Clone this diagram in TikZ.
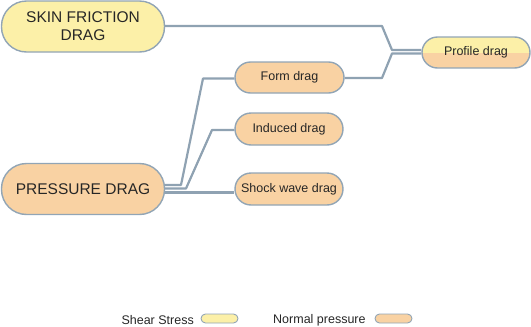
\documentclass[tikz,border=0pt]{standalone}
\usepackage{fontspec}
\setmainfont{Liberation Sans}
\definecolor{ylw}{HTML}{FCF0A8}
\definecolor{org}{HTML}{F9D2A3}
\definecolor{bord}{HTML}{92A5B5}
\definecolor{conn}{HTML}{8FA2B2}
\definecolor{txt}{HTML}{262626}
\begin{document}
\begin{tikzpicture}[x=1pt,y=-1pt,
  pill/.style={draw=bord, line width=1.4pt, rounded corners=#1, inner sep=0pt, text=txt, align=center},
  bigfont/.style={font=\fontsize{15.5}{18}\selectfont},
  smallfont/.style={font=\fontsize{12.5}{15}\selectfont},
  wire/.style={draw=conn, line width=2.2pt, line join=round},
  legpill/.style={draw=bord, line width=0.9pt, rounded corners=4.5pt, minimum width=37pt, minimum height=9pt, inner sep=0pt}]
\useasboundingbox (0,0) rectangle (531,327);
\node[pill=25pt, fill=ylw, bigfont, minimum width=163pt, minimum height=51pt] (skin) at (83,26.5) {SKIN FRICTION\\DRAG};
\node[pill=25pt, fill=org, bigfont, minimum width=163pt, minimum height=51pt] (press) at (83,189) {PRESSURE DRAG};
\node[pill=15.5pt, fill=org, smallfont, minimum width=109pt, minimum height=31pt] (form) at (289.5,77.5) {Form drag};
\node[pill=16pt, fill=org, smallfont, minimum width=108pt, minimum height=32pt] (induced) at (289,129) {Induced drag};
\node[pill=16pt, fill=org, smallfont, minimum width=108pt, minimum height=32pt] (shock) at (289,189) {Shock wave drag};
\node[pill=15.5pt, smallfont, minimum width=108pt, minimum height=31pt,
  path picture={
    \fill[org, sharp corners] (path picture bounding box.south west) rectangle (path picture bounding box.east);
    \fill[ylw, sharp corners] (path picture bounding box.north west) rectangle (path picture bounding box.east);
  }] (profile) at (476,52.5) {Profile drag};
% connectors
\coordinate (a1) at (382,26); \coordinate (a2) at (392,50);
\coordinate (b1) at (382,78); \coordinate (b2) at (392,53.5);
\draw[wire] (skin.east |- 0,26) -- (a1) -- (a2) -- (profile.west |- a2);
\draw[wire] (form.east |- 0,78) -- (b1) -- (b2) -- (profile.west |- b2);
\coordinate (c1) at (181,185); \coordinate (c2) at (203,78.5);
\coordinate (d1) at (186,188.5); \coordinate (d2) at (212,130);
\draw[wire] (press.east |- c1) -- (c1) -- (c2) -- (form.west |- c2);
\draw[wire] (press.east |- d1) -- (d1) -- (d2) -- (induced.west |- d2);
\draw[wire] (press.east |- 0,192.5) -- (shock.west |- 0,192.5);
% legend
\node[smallfont, text=txt, anchor=east, inner sep=0pt] (lshear) at (194,320) {Shear Stress};
\node[legpill, fill=ylw] (pshear) at (219.5,318.5) {};
\node[smallfont, text=txt, anchor=west, inner sep=0pt] (lnorm) at (273,320) {Normal pressure};
\node[legpill, fill=org] (pnorm) at (393.5,318.5) {};
\end{tikzpicture}
\end{document}
